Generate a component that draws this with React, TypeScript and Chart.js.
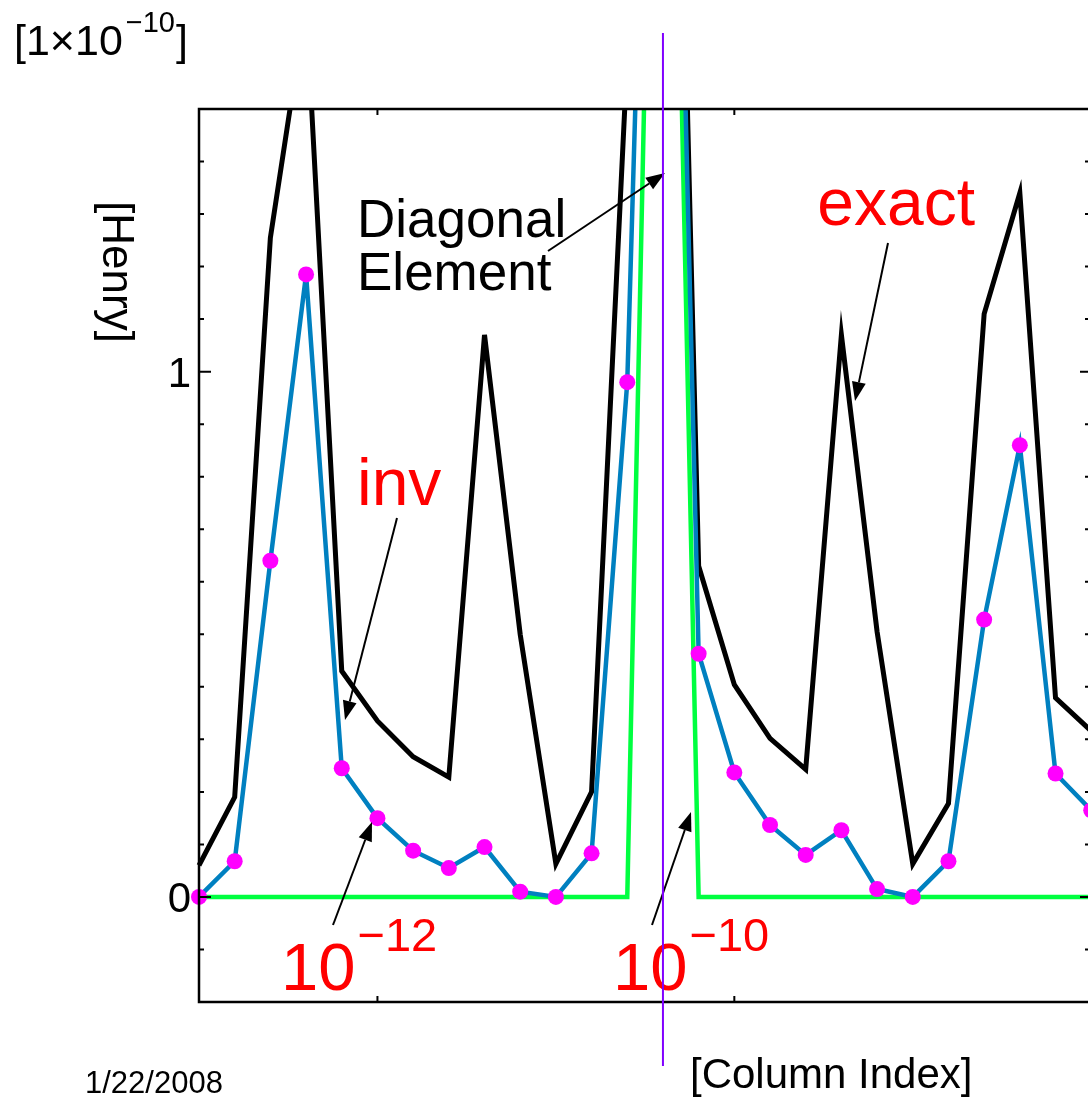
import React, { useEffect, useRef } from "react";
import { Chart, registerables } from "chart.js";

Chart.register(...registerables);

// ---- data ----
const columnIndex = [5, 6, 7, 8, 9, 10, 11, 12, 13, 14, 15, 16, 17, 18, 19, 20, 21, 22, 23, 24, 25, 26, 27, 28, 29, 30];
const exactValues = [0.06, 0.19, 1.255, 1.70, 0.43, 0.335, 0.267, 0.228, 1.07, 0.50, 0.063, 0.20, 1.60, 3.40, 0.63, 0.404, 0.302, 0.243, 1.07, 0.505, 0.063, 0.178, 1.11, 1.34, 0.379, 0.316];
const invValues = [0, 0.068, 0.64, 1.185, 0.245, 0.15, 0.088, 0.055, 0.095, 0.01, 0, 0.083, 0.98, 3.30, 0.463, 0.237, 0.137, 0.08, 0.127, 0.015, 0, 0.068, 0.528, 0.86, 0.235, 0.165];
const diagonalValues = [0, 0, 0, 0, 0, 0, 0, 0, 0, 0, 0, 0, 0, 3.2, 0, 0, 0, 0, 0, 0, 0, 0, 0, 0, 0, 0];

const X_MIN = 5;
const X_MAX = 29.91;
const Y_MIN = -0.2;
const Y_MAX = 1.5;
const xTickValues = [10, 20];
const yMajorTicks = [0, 1];
const yMajorLabels = ["0", "1"];
const yMinorTicks = [-0.1, 0.1, 0.2, 0.3, 0.4, 0.5, 0.6, 0.7, 0.8, 0.9, 1.1, 1.2, 1.3, 1.4];
const diagonalColumn = 18;

const FONT = '"Liberation Sans", Arial, Helvetica, sans-serif';

function arrow(ctx: CanvasRenderingContext2D, x1: number, y1: number, x2: number, y2: number) {
  const ang = Math.atan2(y2 - y1, x2 - x1);
  const L = 19;
  const W = 7;
  const bx = x2 - L * Math.cos(ang);
  const by = y2 - L * Math.sin(ang);
  ctx.save();
  ctx.strokeStyle = "#000";
  ctx.fillStyle = "#000";
  ctx.lineWidth = 2;
  ctx.beginPath();
  ctx.moveTo(x1, y1);
  ctx.lineTo(bx, by);
  ctx.stroke();
  ctx.beginPath();
  ctx.moveTo(x2, y2);
  ctx.lineTo(bx + W * Math.sin(ang), by - W * Math.cos(ang));
  ctx.lineTo(bx - W * Math.sin(ang), by + W * Math.cos(ang));
  ctx.closePath();
  ctx.fill();
  ctx.restore();
}

function supText(
  ctx: CanvasRenderingContext2D,
  base: string,
  sup: string,
  x: number,
  baseY: number,
  size: number,
  supSize: number,
  supY: number,
  color: string,
  gap: number
) {
  ctx.save();
  ctx.fillStyle = color;
  ctx.textAlign = "left";
  ctx.textBaseline = "alphabetic";
  ctx.font = `${size}px ${FONT}`;
  ctx.fillText(base, x, baseY);
  const w = ctx.measureText(base).width;
  ctx.font = `${supSize}px ${FONT}`;
  ctx.fillText(sup, x + w + gap, supY);
  const w2 = ctx.measureText(sup).width;
  ctx.restore();
  return x + w + gap + w2;
}

const framePlugin = {
  id: "framePlugin",
  afterDatasetsDraw(chart: any) {
    const ctx: CanvasRenderingContext2D = chart.ctx;
    const { left, right, top, bottom } = chart.chartArea;
    const xs = chart.scales.x;
    const ys = chart.scales.y;
    ctx.save();
    ctx.strokeStyle = "#000";
    ctx.lineWidth = 2.5;
    ctx.lineCap = "butt";
    // frame (left, top, bottom; right side is outside the picture)
    ctx.beginPath();
    ctx.moveTo(right + 2, top);
    ctx.lineTo(left, top);
    ctx.lineTo(left, bottom);
    ctx.lineTo(right + 2, bottom);
    ctx.stroke();

    ctx.lineWidth = 2;
    // x ticks (inward, bottom and top)
    xTickValues.forEach((v) => {
      const px = xs.getPixelForValue(v);
      ctx.beginPath();
      ctx.moveTo(px, bottom);
      ctx.lineTo(px, bottom - 6);
      ctx.moveTo(px, top);
      ctx.lineTo(px, top + 6);
      ctx.stroke();
    });
    // y ticks (inward, left and right)
    yMajorTicks.forEach((v) => {
      const py = ys.getPixelForValue(v);
      ctx.beginPath();
      ctx.moveTo(left, py);
      ctx.lineTo(left + 12, py);
      ctx.moveTo(right, py);
      ctx.lineTo(right - 8, py);
      ctx.stroke();
    });
    yMinorTicks.forEach((v) => {
      const py = ys.getPixelForValue(v);
      ctx.beginPath();
      ctx.moveTo(left, py);
      ctx.lineTo(left + 5, py);
      ctx.moveTo(right, py);
      ctx.lineTo(right - 3, py);
      ctx.stroke();
    });
    // y tick labels
    ctx.fillStyle = "#000";
    ctx.font = `42px ${FONT}`;
    ctx.textAlign = "right";
    ctx.textBaseline = "alphabetic";
    yMajorTicks.forEach((v, i) => {
      const py = ys.getPixelForValue(v);
      ctx.fillText(yMajorLabels[i], left - 8, py + 15);
    });

    // unit label
    const ex = supText(ctx, "[1\u00d710", "\u221210", 14, 55, 43, 29, 32, "#000", 3);
    ctx.font = `43px ${FONT}`;
    ctx.textAlign = "left";
    ctx.fillText("]", ex + 1, 55);

    // y axis title (rotated)
    ctx.save();
    ctx.translate(103, 272);
    ctx.rotate(Math.PI / 2);
    ctx.font = `44px ${FONT}`;
    ctx.textAlign = "center";
    ctx.fillText("[Henry]", 0, 0);
    ctx.restore();

    // x axis title and date
    ctx.textAlign = "left";
    ctx.font = `42px ${FONT}`;
    ctx.fillText("[Column Index]", 690, 1088);
    ctx.font = `31px ${FONT}`;
    ctx.fillText("1/22/2008", 85, 1093);

    // annotations
    ctx.font = `53px ${FONT}`;
    ctx.fillText("Diagonal", 357, 237);
    ctx.fillText("Element", 357, 290);
    ctx.fillStyle = "#ff0000";
    ctx.font = `66px ${FONT}`;
    ctx.textAlign = "right";
    ctx.fillText("exact", 975, 225);
    ctx.textAlign = "left";
    ctx.fillText("inv", 357, 505);
    supText(ctx, "10", "\u221212", 281, 990, 67, 47, 951, "#ff0000", 2);
    supText(ctx, "10", "\u221210", 613, 990, 67, 47, 951, "#ff0000", 2);

    arrow(ctx, 548, 251, 665, 173);
    arrow(ctx, 888, 243, 855, 401);
    arrow(ctx, 397, 518, 345, 720);
    arrow(ctx, 333, 925, 372, 822);
    arrow(ctx, 652, 925, 691, 812);

    // diagonal marker line
    const mx = xs.getPixelForValue(diagonalColumn);
    ctx.strokeStyle = "#8000ff";
    ctx.lineWidth = 2;
    ctx.beginPath();
    ctx.moveTo(mx, 33);
    ctx.lineTo(mx, 1066);
    ctx.stroke();
    ctx.restore();
  },
};

export default function App() {
  const ref = useRef<HTMLCanvasElement | null>(null);
  useEffect(() => {
    if (!ref.current) return;
    const clip = { left: 12, top: 0, right: 12, bottom: 12 };
    const chart = new Chart(ref.current, {
      type: "line",
      data: {
        datasets: [
          {
            label: "inv",
            data: columnIndex.map((x, i) => ({ x, y: invValues[i] })),
            borderColor: "#0080c0",
            borderWidth: 4.5,
            pointRadius: 8,
            pointBackgroundColor: "#ff00ff",
            pointBorderWidth: 0,
            pointHoverRadius: 8,
            tension: 0,
            clip,
          } as any,
          {
            label: "exact",
            data: columnIndex.map((x, i) => ({ x, y: exactValues[i] })),
            borderColor: "#000000",
            borderWidth: 5,
            pointRadius: 0,
            tension: 0,
            clip,
          } as any,
          {
            label: "diagonal",
            data: columnIndex.map((x, i) => ({ x, y: diagonalValues[i] })),
            borderColor: "#00ff40",
            borderWidth: 4.5,
            pointRadius: 0,
            tension: 0,
            clip,
          } as any,
        ],
      },
      options: {
        animation: false,
        responsive: false,
        devicePixelRatio: 1,
        events: [],
        layout: { autoPadding: false, padding: { left: 199, top: 109, right: 0, bottom: 98 } },
        scales: {
          x: { type: "linear", min: X_MIN, max: X_MAX, display: false },
          y: { type: "linear", min: Y_MIN, max: Y_MAX, display: false },
        },
        plugins: { legend: { display: false }, tooltip: { enabled: false } },
      },
      plugins: [framePlugin],
    });
    return () => chart.destroy();
  }, []);
  return (
    <div style={{ position: "absolute", left: 0, top: 0, width: 1088, height: 1100, background: "#fff" }}>
      <canvas ref={ref} width={1088} height={1100} style={{ display: "block" }} />
    </div>
  );
}
